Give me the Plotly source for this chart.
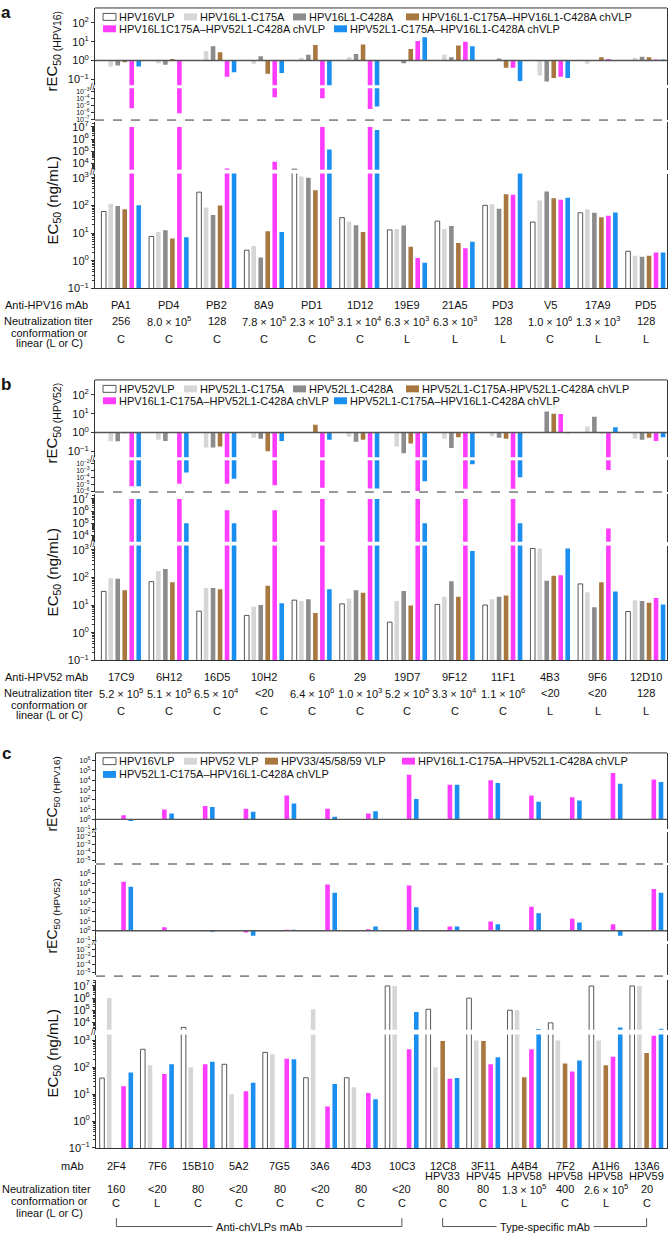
import plotly.graph_objects as go

W, H = 668, 1239
FONT = "Liberation Sans, Arial, Helvetica, sans-serif"
AXC = "#333333"
C_WHITE, C_LG, C_DG, C_BR, C_MG, C_BL = "#ffffff", "#d6d6d6", "#8c8c8c", "#a8773f", "#ff3dff", "#1a8ff0"

# ---------------- Panel a data ----------------
a_mabs = ["PA1", "PD4", "PB2", "8A9", "PD1", "1D12", "19E9", "21A5", "PD3", "V5", "17A9", "PD5"]
a_titer = ["256", "8.0 × 10<sup>5</sup>", "128", "7.8 × 10<sup>5</sup>", "2.3 × 10<sup>5</sup>",
           "3.1 × 10<sup>4</sup>", "6.3 × 10<sup>3</sup>", "6.3 × 10<sup>3</sup>", "128",
           "1.0 × 10<sup>6</sup>", "1.3 × 10<sup>3</sup>", "128"]
a_conf = ["C", "C", "C", "C", "C", "C", "L", "L", "L", "C", "L", "L"]
a_legend = ["HPV16VLP", "HPV16L1-C175A", "HPV16L1-C428A", "HPV16L1-C175A–HPV16L1-C428A chVLP",
            "HPV16L1C175A–HPV52L1-C428A chVLP", "HPV52L1-C175A–HPV16L1-C428A chVLP"]
# rEC50 (HPV16)
a_r_c175 = [0.48, 0.72, 3.1, 0.67, 1.4, 1.5, 1.0, 2.0, 1.0, 0.16, 0.67, 1.4]
a_r_c428 = [0.55, 0.6, 5.7, 1.7, 2.0, 2.2, 0.72, 1.5, 1.3, 0.078, 1.0, 1.6]
a_r_ch1616 = [0.82, 1.22, 2.75, 0.2, 6.7, 7.0, 4.1, 6.2, 0.41, 0.12, 1.5, 1.5]
a_r_ch1652 = [3.7e-6, 7e-7, 0.14, 1.4e-4, 1e-4, 2.7e-6, 11, 10, 0.41, 0.14, 1.2, 1.15]
a_r_ch5216 = [0.48, 1.05, 0.24, 0.22, 0.03, 6.5e-6, 17, 5.7, 0.082, 0.12, 1.0, 1.15]
# EC50 (ng/mL)
a_vlp = [60, 7.5, 300, 2.4, 3500, 36, 13, 27, 100, 25, 54, 2.2]
a_c175 = [115, 11, 83, 3.4, 1100, 26, 14, 14, 110, 150, 72, 1.5]
a_c428 = [95, 12.5, 45, 1.3, 1000, 19, 18.6, 18, 75, 320, 54, 1.4]
a_ch1616 = [72, 6.3, 98, 11.5, 350, 11, 3.2, 4.4, 250, 180, 37, 1.5]
a_ch1652 = [1e7, 1e7, 4000, 14000, 1e7, 1e7, 1.25, 2.8, 240, 160, 42, 2.0]
a_ch5216 = [100, 7, 2000, 11, 1.4e5, 5.6e6, 0.85, 4.8, 1500, 190, 55, 2.0]

# ---------------- Panel b data ----------------
b_mabs = ["17C9", "6H12", "16D5", "10H2", "6", "29", "19D7", "9F12", "11F1", "4B3", "9F6", "12D10"]
b_titer = ["5.2 × 10<sup>5</sup>", "5.1 × 10<sup>5</sup>", "6.5 × 10<sup>4</sup>", "&lt;20",
           "6.4 × 10<sup>6</sup>", "1.0 × 10<sup>3</sup>", "5.2 × 10<sup>5</sup>", "3.3 × 10<sup>4</sup>",
           "1.1 × 10<sup>6</sup>", "&lt;20", "&lt;20", "128"]
b_conf = ["C", "C", "C", "C", "C", "C", "C", "C", "C", "L", "L", "L"]
b_legend = ["HPV52VLP", "HPV52L1-C175A", "HPV52L1-C428A", "HPV52L1-C175A-HPV52L1-C428A chVLP",
            "HPV16L1-C175A–HPV52L1-C428A chVLP", "HPV52L1-C175A–HPV16L1-C428A chVLP"]
b_r_c175 = [0.34, 0.41, 0.16, 0.52, 1.0, 0.6, 0.18, 0.46, 0.63, 1.0, 2.1, 0.46]
b_r_c428 = [0.34, 0.35, 0.16, 0.46, 1.0, 0.32, 0.08, 0.15, 0.52, 13, 6.9, 0.41]
b_r_ch5252 = [0.9, 1.0, 0.18, 0.1, 2.6, 0.41, 0.26, 0.56, 0.46, 10, 0.9, 0.52]
b_r_ch1652 = [5e-6, 1.1e-5, 1.1e-5, 7e-6, 3e-6, 2.4e-6, 1e-6, 2.2e-6, 2.2e-6, 9.5, 1.1e-3, 0.35]
b_r_ch5216 = [5e-6, 4.8e-4, 6e-5, 0.35, 0.41, 2.4e-6, 2.5e-5, 7e-3, 1e-4, 0.9, 1.9, 0.56]
b_vlp = [31, 70, 6, 4.2, 15, 11, 2.4, 10.5, 10, 1100, 58, 5.8]
b_c175 = [92, 170, 41, 8.7, 14, 17, 14, 20, 16, 1100, 29, 15]
b_c428 = [88, 200, 41, 10, 16, 34, 32, 72, 20, 76, 8.3, 14]
b_ch5252 = [34, 67, 37, 50, 5.1, 28, 9.5, 20, 22, 115, 67, 12]
b_ch1652 = [1e7, 1e7, 1.2e6, 1.2e6, 1e7, 1e7, 1e7, 1e7, 1e7, 120, 38000, 18]
b_ch5216 = [1e7, 1e5, 1e5, 11.5, 37, 1e7, 1e5, 900, 1e5, 1100, 31, 10.5]

# ---------------- Panel c data ----------------
c_mabs = ["2F4", "7F6", "15B10", "5A2", "7G5", "3A6", "4D3", "10C3",
          "12C8", "3F11", "A4B4", "7F2", "A1H6", "13A6"]
c_types = ["", "", "", "", "", "", "", "", "HPV33", "HPV45", "HPV58", "HPV58", "HPV58", "HPV59"]
c_titer = ["160", "&lt;20", "80", "&lt;20", "80", "&lt;20", "80", "&lt;20", "80", "80",
           "1.3 × 10<sup>5</sup>", "400", "2.6 × 10<sup>5</sup>", "20"]
c_conf = ["C", "L", "C", "C", "C", "C", "C", "C", "C", "C", "L", "C", "L", "C"]
c_legend = ["HPV16VLP", "HPV52 VLP", "HPV33/45/58/59 VLP", "HPV16L1-C175A–HPV52L1-C428A chVLP",
            "HPV52L1-C175A–HPV16L1-C428A chVLP"]
c_r16_ch1652 = [2.6, 10, 23, 12, 275, 12, 4, 38000, 3600, 10000, 275, 186, 56000, 12000]
c_r16_ch5216 = [0.68, 4, 19, 6, 42, 1.9, 7, 125, 3600, 5400, 63, 85, 4600, 6800]
c_r52_ch1652 = [1.4e5, 2.4, 0.9, 0.67, 1.3, 72000, 1.4, 57000, 2.8, 9.4, 340, 18, 4.9, 24000]
c_r52_ch5216 = [42000, 1.0, 0.77, 0.3, 1.3, 10000, 2.8, 290, 2.8, 4.9, 69, 7.4, 0.3, 10000]
c_vlp16 = [40, 470, 3800, 130, 360, 41, 41, 1e7, 1.2e5, 1e6, 1e5, 9000, 1e7, 1e7]
c_vlp52 = [1e6, 120, 100, 10, 310, 1.2e5, 18, 1e7, 100, 1000, 1e5, 1000, 1000, 1e7]
c_vlpx = [None, None, None, None, None, None, None, None, 950, 950, 43, 140, 120, 340]
c_ch1652 = [20, 57, 130, 13, 210, 3.5, 11, 470, 38, 130, 470, 70, 250, 1500]
c_ch5216 = [65, 130, 160, 27, 200, 24, 6.5, 7e4, 40, 240, 2800, 180, 3800, 3000]

# ---------------- helpers ----------------
fig = go.Figure()
layout = {}
shapes = []
annotations = []
count = [0]


def yp(p):
    return 1 - p / H


def xp(p):
    return p / W


def sup(e):
    return "10<sup>%s</sup>" % (str(e) if e >= 0 else "\u2212%d" % (-e))


def text(x, y, s, size=11, xanchor="center", angle=0, bg=None, bold=False):
    d = dict(x=xp(x), y=yp(y), xref="paper", yref="paper", text=("<b>%s</b>" % s if bold else s),
             showarrow=False, font=dict(size=size, family=FONT, color="#111"),
             xanchor=xanchor, yanchor="middle", textangle=angle, borderpad=0)
    if bg:
        d["bgcolor"] = bg
    annotations.append(d)


def hline(x0, x1, y, dash="solid", width=1, color=AXC):
    shapes.append(dict(type="line", xref="paper", yref="paper", x0=xp(x0), x1=xp(x1), y0=yp(y), y1=yp(y),
                       line=dict(color=color, width=width, dash=dash)))


def vline(x, y0, y1, width=1, color=AXC):
    shapes.append(dict(type="line", xref="paper", yref="paper", x0=xp(x), x1=xp(x), y0=yp(y0), y1=yp(y1),
                       line=dict(color=color, width=width)))


def segment(x0, x1, top, bot, lo, hi, exps, tsize, ngroups, xr, series, slot_px, bar_px,
            nslots, ratio=False, xline=False, minor=False):
    count[0] += 1
    k = count[0]
    xn = "x" if k == 1 else "x%d" % k
    yn = "y" if k == 1 else "y%d" % k
    gw = (x1 - x0) / (xr[1] - xr[0])
    sp = slot_px / gw
    w = bar_px / gw
    layout["xaxis" if k == 1 else "xaxis%d" % k] = dict(
        domain=[xp(x0), xp(x1)], range=xr, anchor=yn, showticklabels=False, ticks="",
        showgrid=False, zeroline=False, showline=xline, linecolor=AXC, linewidth=1, fixedrange=True)
    yax = dict(domain=[yp(bot), yp(top)], type="log", range=[lo, hi], anchor=xn,
               tickmode="array", tickvals=[10.0 ** e for e in exps], ticktext=[sup(e) for e in exps],
               tickfont=dict(size=tsize, family=FONT, color="#111"), ticks="outside", ticklen=3,
               tickcolor=AXC, showgrid=False, zeroline=False, showline=True, mirror=True,
               linecolor=AXC, linewidth=1, fixedrange=True)
    if minor:
        yax["minor"] = dict(tickmode="array", ticks="outside", ticklen=2, tickcolor=AXC, showgrid=False,
                            tickvals=[m * 10.0 ** e for e in range(-2, 8) for m in range(2, 10)])
    layout["yaxis" if k == 1 else "yaxis%d" % k] = yax
    xs = list(range(ngroups))
    for slot, vals, color, outlined in series:
        off = (slot - (nslots - 1) / 2.0) * sp - w / 2.0
        if ratio:
            ys = [None if v is None else v - 1.0 for v in vals]
            base = 1.0
        else:
            ys = vals
            base = None
        fig.add_trace(go.Bar(
            x=xs, y=ys, base=base, width=w, offset=off, xaxis=xn, yaxis=yn, showlegend=False,
            marker=dict(color=color, line=dict(color="#444" if outlined else color,
                                               width=0.9 if outlined else 0)),
            hoverinfo="skip"))

    def ypx(logv):
        return bot - (logv - lo) / (hi - lo) * (bot - top)
    return ypx


def legend(items, y, x_sw):
    for (lab, color, outlined), x in zip(items, x_sw):
        shapes.append(dict(type="rect", xref="paper", yref="paper", x0=xp(x), x1=xp(x + 13),
                           y0=yp(y + 3.5), y1=yp(y - 3.5), fillcolor=color,
                           line=dict(color="#444" if outlined else color, width=0.9 if outlined else 0)))
        text(x + 15, y, lab, size=11, xanchor="left")


def breakmark(x, y, size=10):
    text(x, y, "//", size=size)


# ---------------- Panel a & b (same layout, shifted) ----------------
def panel_ab(dy, letter, ratios, ec50, legend_labels, mabs, titers, confs, mab_label, lower_exps, rtitle):
    X0, X1 = 95, 667
    XR = [-0.55, 11.45]
    cols = [C_WHITE, C_LG, C_DG, C_BR, C_MG, C_BL]
    # rEC50 upper
    rser = [(i + 1, ratios[i], cols[i + 1], False) for i in range(5)]
    f = segment(X0, X1, 4 + dy, 82 + dy, -1.316, 2.789, [-1, 0, 1, 2], 11, 12, XR, rser, 7.0, 4.6, 6, ratio=True)
    hline(X0, X1, f(0), width=1.4, color="#555")
    # rEC50 lower
    lo_hi = lower_exps[0] + 3.0 / 7.0
    lo_lo = lower_exps[0] - 28.5 / 7.0
    segment(X0, X1, 85 + dy, 116.5 + dy, lo_lo, lo_hi, lower_exps, 7, 12, XR, rser, 7.0, 4.6, 6, ratio=True)
    hline(X0, X1, 117 + dy, dash="dash", width=1)
    # EC50 upper / lower
    eser = [(i, ec50[i], cols[i], i == 0) for i in range(6)]
    segment(X0, X1, 119 + dy, 167 + dy, 3.504, 7.407, [4, 5, 6, 7], 11, 12, XR, eser, 7.0, 4.6, 6, minor=True)
    segment(X0, X1, 171 + dy, 286.7 + dy, -1, 3.147, [-1, 0, 1, 2, 3], 11, 12, XR, eser, 7.0, 4.6, 6,
            xline=True, minor=True)
    hline(X0, X1, 4 + dy)
    breakmark(X0 - 2, 83.5 + dy, 9)
    breakmark(X0 - 2, 169 + dy, 9)
    # legend
    items = [(legend_labels[i], cols[i], i == 0) for i in range(6)]
    legend(items[:4], 13 + dy, [103, 184, 293, 406])
    legend(items[4:], 25 + dy, [103, 334])
    # titles
    text(6, 9 + dy, letter, size=17, bold=True)
    text(53, 48 + dy, rtitle, size=15, angle=-90)
    text(53, 198 + dy, "EC<sub>50</sub> (ng/mL)", size=15, angle=-90)
    # label rows
    gw = (X1 - X0) / 12.0
    for i in range(12):
        cx = X0 + gw * (i + 0.55)
        text(cx, 303.3 + dy, mabs[i])
        text(cx, 319.3 + dy, titers[i])
        text(cx, 338 + dy, confs[i])
    text(46, 303.3 + dy, mab_label)
    text(48, 319.3 + dy, "Neutralization titer")
    text(50, 331.2 + dy, "conformation or")
    text(50, 342.2 + dy, "linear (L or C)")


panel_ab(0, "a", [a_r_c175, a_r_c428, a_r_ch1616, a_r_ch1652, a_r_ch5216],
         [a_vlp, a_c175, a_c428, a_ch1616, a_ch1652, a_ch5216], a_legend,
         a_mabs, a_titer, a_conf, "Anti-HPV16 mAb", [-3, -4, -5, -6, -7],
         "rEC<sub>50</sub><sub> (HPV16)</sub>")
panel_ab(375, "b", [b_r_c175, b_r_c428, b_r_ch5252, b_r_ch1652, b_r_ch5216],
         [b_vlp, b_c175, b_c428, b_ch5252, b_ch1652, b_ch5216], b_legend,
         b_mabs, b_titer, b_conf, "Anti-HPV52 mAb", [-2, -3, -4, -5, -6],
         "rEC<sub>50</sub><sub> (HPV52)</sub>")

# ---------------- Panel c ----------------
CX0, CX1 = 96, 667
CXR = [-0.5, 13.5]
ccols = [C_WHITE, C_LG, C_BR, C_MG, C_BL]
r16 = [(3, c_r16_ch1652, C_MG, False), (4, c_r16_ch5216, C_BL, False)]
r52 = [(3, c_r52_ch1652, C_MG, False), (4, c_r52_ch5216, C_BL, False)]
f16 = segment(CX0, CX1, 755, 832, -1.017, 6.816, [-1, 0, 1, 2, 3, 4, 5, 6], 7.5, 14, CXR, r16, 7.2, 4.6, 5, ratio=True)
hline(CX0, CX1, f16(0), width=1.4, color="#555")
segment(CX0, CX1, 835, 866, -5.333, -1.506, [-2, -3, -4, -5], 7.5, 14, CXR, r16, 7.2, 4.6, 5, ratio=True)
hline(CX0, CX1, 867, dash="dash")
f52 = segment(CX0, CX1, 868, 945, -1.115, 6.906, [-1, 0, 1, 2, 3, 4, 5, 6], 7.5, 14, CXR, r52, 7.2, 4.6, 5, ratio=True)
hline(CX0, CX1, f52(0), width=1.4, color="#555")
segment(CX0, CX1, 948, 979, -5.36, -1.4, [-2, -3, -4, -5], 7.5, 14, CXR, r52, 7.2, 4.6, 5, ratio=True)
hline(CX0, CX1, 980, dash="dash")
cser = [(0, c_vlp16, C_WHITE, True), (1, c_vlp52, C_LG, False), (2, c_vlpx, C_BR, False),
        (3, c_ch1652, C_MG, False), (4, c_ch5216, C_BL, False)]
segment(CX0, CX1, 984, 1034, 3.393, 7.49, [4, 5, 6, 7], 11, 14, CXR, cser, 7.2, 4.6, 5, minor=True)
segment(CX0, CX1, 1039, 1153.3, -1, 3.218, [-1, 0, 1, 2, 3], 11, 14, CXR, cser, 7.2, 4.6, 5,
        xline=True, minor=True)
hline(CX0, CX1, 755)
breakmark(CX0 - 2, 833.5, 8)
breakmark(CX0 - 2, 946.5, 8)
breakmark(CX0 - 2, 1036.5, 9)
citems = [(c_legend[i], ccols[i], i == 0) for i in range(5)]
legend(citems[:4], 763.3, [103, 184, 265, 402])
legend(citems[4:], 776.7, [103])
text(6, 756, "c", size=17, bold=True)
text(53, 797, "rEC<sub>50</sub><sub> (HPV16)</sub>", size=14, angle=-90)
text(53, 920, "rEC<sub>50</sub><sub> (HPV52)</sub>", size=14, angle=-90)
text(53, 1058, "EC<sub>50</sub> (ng/mL)", size=15, angle=-90)
cgw = (CX1 - CX0) / 14.0
for i in range(14):
    cx = CX0 + cgw * (i + 0.5)
    text(cx, 1171.7, c_mabs[i])
    if c_types[i]:
        text(cx, 1182, c_types[i])
    text(cx, 1195, c_titer[i])
    text(cx, 1209, c_conf[i])
text(72, 1171.7, "mAb")
text(46, 1195, "Neutralization titer")
text(50, 1207, "conformation or")
text(50, 1219, "linear (L or C)")
# brackets
for i0, i1, lab in [(0, 7, "Anti-chVLPs mAb"), (8, 13, "Type-specific mAb")]:
    xa = CX0 + cgw * (i0 + 0.5)
    xb = CX0 + cgw * (i1 + 0.5)
    hline(xa, xb, 1232.5, color="#555")
    vline(xa, 1224, 1232.5, color="#555")
    vline(xb, 1224, 1232.5, color="#555")
    text((xa + xb) / 2.0, 1232.5, "&nbsp;" + lab + "&nbsp;", size=11, bg="white")

layout.update(dict(width=W, height=H, margin=dict(l=0, r=0, t=0, b=0), paper_bgcolor="white",
                   plot_bgcolor="rgba(0,0,0,0)", showlegend=False, barmode="overlay",
                   font=dict(family=FONT, size=11, color="#111"), shapes=shapes, annotations=annotations))
fig.update_layout(**layout)
fig.write_html("out.html", config={"displayModeBar": False, "staticPlot": True},
               post_script="document.body.style.margin='0';document.body.style.overflow='hidden';")
